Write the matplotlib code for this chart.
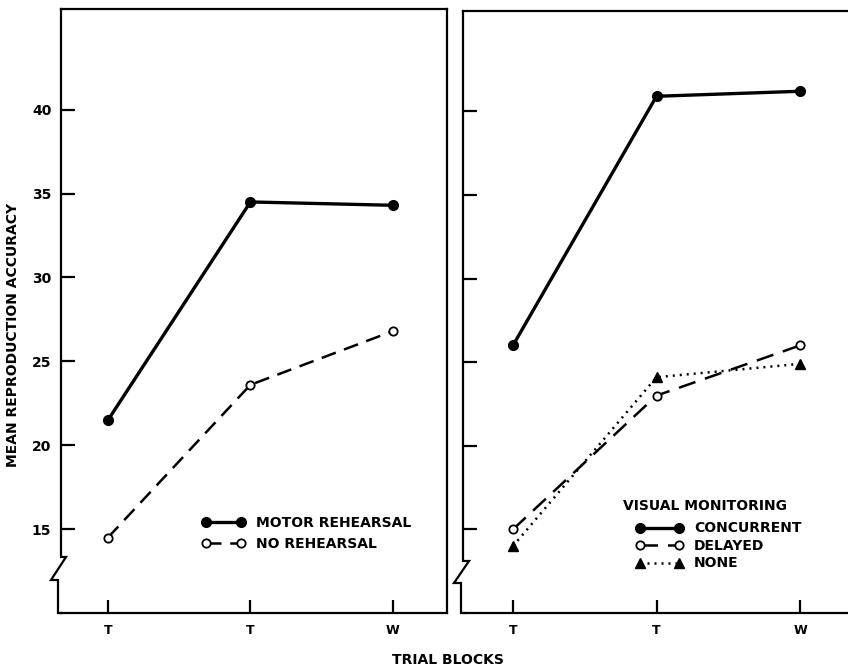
import matplotlib.pyplot as plt
from matplotlib.lines import Line2D

# data
blocks = ['T', 'T', 'W']
motor = [21.5, 34.5, 34.3]
no_reh = [14.5, 23.6, 26.8]
concurrent = [26.0, 40.9, 41.2]
delayed = [15.0, 23.0, 26.0]
none_vm = [14.0, 24.1, 24.9]
yticks = [15, 20, 25, 30, 35, 40]

W, H = 848, 669
plt.rcParams['font.family'] = ['DejaVu Sans']
plt.rcParams['font.weight'] = 'bold'

fig = plt.figure(figsize=(W / 100, H / 100), dpi=100)

def px_axes(l, r, t, b):
    return fig.add_axes([l / W, 1 - b / H, (r - l) / W, (b - t) / H])

axL = px_axes(61, 447, 9, 613)
axR = px_axes(463, 848, 11, 613)

x = range(len(blocks))

# left panel
axL.plot(x, motor, '-', color='black', lw=2.4, marker='o', ms=7,
         label='MOTOR REHEARSAL')
axL.plot(x, no_reh, color='black', lw=1.8, dashes=(6, 3.5), marker='o', ms=6,
         mfc='white', mew=1.3, label='NO REHEARSAL')
axL.set_xlim(-0.33, 2.38)

# right panel
axR.plot(x, concurrent, '-', color='black', lw=2.4, marker='o', ms=7,
         label='CONCURRENT')
axR.plot(x, delayed, color='black', lw=1.8, dashes=(7, 4), marker='o', ms=6,
         mfc='white', mew=1.3, label='DELAYED')
axR.plot(x, none_vm, color='black', lw=1.8, dashes=(0.8, 2.0), marker='^', ms=7,
         label='NONE')
axR.set_xlim(-0.348, 2.334)

for ax in (axL, axR):
    ax.set_ylim(10, 46)
    ax.set_xticks(list(x))
    ax.set_xticklabels(blocks)
    ax.set_yticks(yticks)
    ax.tick_params(direction='in', width=1.6, length=10, labelsize=10, pad=7)
    ax.tick_params(axis='x', length=9.5, pad=8, labelsize=9)
    ax.spines['left'].set_visible(False)
    for s in ('top', 'bottom', 'right'):
        ax.spines[s].set_linewidth(1.6)

axR.spines['right'].set_visible(False)
axR.tick_params(axis='y', labelleft=False)

# broken left spines
def spine_path(pts):
    xs = [p[0] / W for p in pts]
    ys = [1 - p[1] / H for p in pts]
    fig.add_artist(Line2D(xs, ys, transform=fig.transFigure, color='black',
                          lw=1.6, solid_joinstyle='miter'))

spine_path([(61, 9), (61, 557), (66, 557), (51, 580), (58, 580), (58, 613), (62, 613)])
spine_path([(463, 11), (463, 561), (469, 561), (454, 583), (461, 583), (461, 613), (464, 613)])

# legends
axL.legend(loc='upper left', bbox_to_anchor=(0.366, 0.161), frameon=False,
           numpoints=2, handlelength=3.1, handletextpad=0.8, labelspacing=0.5,
           fontsize=10, borderpad=0, borderaxespad=0)
axR.text(0.416, 0.178, 'VISUAL MONITORING', transform=axR.transAxes,
         fontsize=10, fontweight='bold', va='center', ha='left')
axR.legend(loc='upper left', bbox_to_anchor=(0.449, 0.152), frameon=False,
           numpoints=2, handlelength=3.4, handletextpad=0.8, labelspacing=0.25,
           fontsize=10, borderpad=0, borderaxespad=0)

fig.text(13 / W, 1 - 335 / H, 'MEAN REPRODUCTION ACCURACY', rotation=90,
         ha='center', va='center', fontsize=10)
fig.text(448 / W, 1 - 660 / H, 'TRIAL BLOCKS', ha='center', va='center',
         fontsize=10)

fig.savefig('out.png', dpi=100)
